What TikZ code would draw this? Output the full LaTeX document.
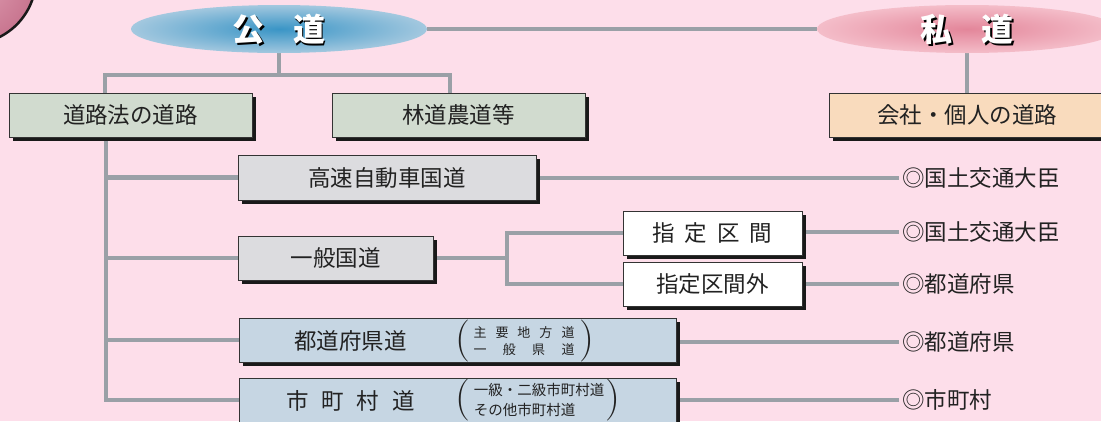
\documentclass[tikz,border=0pt]{standalone}
\usepackage{fontspec}
\newfontfamily\cjk{Noto Sans CJK JP}
\usetikzlibrary{shapes.geometric,shadows,calc}
\definecolor{bgpink}{HTML}{FDDEEA}
\definecolor{conncol}{HTML}{9AA0A7}
\definecolor{greenbox}{HTML}{D1DBCF}
\definecolor{peachbox}{HTML}{F9DBBD}
\definecolor{graybox}{HTML}{DCDCDF}
\definecolor{bluebox}{HTML}{C6D6E3}
\definecolor{blueC}{HTML}{3A95C6}
\definecolor{blueE}{HTML}{A3C8DF}
\definecolor{pinkC}{HTML}{E3869A}
\definecolor{pinkE}{HTML}{F4BDC9}
\definecolor{circC}{HTML}{E2A3B6}
\definecolor{circE}{HTML}{C8758F}
\definecolor{txt}{HTML}{222222}
\pgfdeclarelayer{back}
\pgfdeclarelayer{lines}
\pgfsetlayers{back,lines,main}
\begin{document}
\begin{tikzpicture}[x=1pt,y=-1pt,
  box/.style={draw=black!80, line width=0.9pt, inner sep=0pt, minimum height=44,
    drop shadow={shadow xshift=3.5pt,shadow yshift=-3.5pt,fill=black!90,opacity=1},
    font=\cjk\fontsize{22.5}{27}\selectfont, text=txt},
  conn/.style={draw=conncol, line width=4.5pt},
  lab/.style={anchor=west, inner ysep=0pt, inner xsep=3pt, font=\cjk\fontsize{22.5}{27}\selectfont, text=txt},
  ell/.style={ellipse, inner sep=0pt, minimum width=296, minimum height=48},
  elltext/.style={font=\cjk\bfseries\fontsize{32}{36}\selectfont, inner sep=0pt},
  paren/.style={inner sep=0pt, font=\fontsize{42}{42}\selectfont, text=txt},
  small/.style={inner sep=0pt, text=txt, align=left}]
\useasboundingbox (0,0) rectangle (1101,421);
\clip (0,0) rectangle (1101,421);
\begin{pgfonlayer}{back}
  \fill[bgpink] (0,0) rectangle (1101,421);
\end{pgfonlayer}

% corner circle
\draw[line width=2.5pt, draw=black!90, inner color=circC, outer color=circE] (-30,-22) circle[radius=66];

% ellipses
\node[ell, inner color=blueC, outer color=blueE] (kodo) at (279,29) {};
\node[elltext, text=black] at ($(kodo)+(1.5,2)$) {公\hspace{29pt}道};
\node[elltext, text=white] at (kodo) {公\hspace{29pt}道};
\node[ell, minimum width=300, inner color=pinkC, outer color=pinkE] (shido) at (967,29) {};
\node[elltext, text=black] at ($(shido)+(1.5,2)$) {私\hspace{29pt}道};
\node[elltext, text=white] at (shido) {私\hspace{29pt}道};

% boxes
\node[box, fill=greenbox, minimum width=243] (doro) at (130.5,115) {道路法の道路};
\node[box, fill=greenbox, minimum width=253] (rindo) at (458.5,115) {林道農道等};
\node[box, fill=peachbox, minimum width=290, text width=270, align=left] (kaisha) at (974,115) {\hspace{38pt}会社・個人の道路};
\node[box, fill=graybox, minimum width=298, minimum height=45] (kosoku) at (387,177.5) {高速自動車国道};
\node[box, fill=graybox, minimum width=195] (ippan) at (335.5,258) {一般国道};
\node[box, fill=white, minimum width=179] (shitei) at (712.5,233) {指\hspace{10pt}定\hspace{10pt}区\hspace{10pt}間};
\node[box, fill=white, minimum width=179] (shiteigai) at (712.5,284) {指定区間外};
\node[box, fill=bluebox, minimum width=437] (todo) at (457.5,340) {};
\node[box, fill=bluebox, minimum width=437] (shichoson) at (457.5,400) {};

% texts inside blue boxes
\node[inner sep=0pt, font=\cjk\fontsize{22.5}{27}\selectfont, text=txt] (todot) at (350.5,341) {都道府県道};
\node[paren] (todop1) at (463,341) {(};
\node[small, font=\cjk\fontsize{13}{18}\selectfont] (todos) at (524,341) {\makebox[101pt][s]{主\hfill 要\hfill 地\hfill 方\hfill 道}\\[-0.5pt]\makebox[101pt][s]{一\hfill 般\hfill 県\hfill 道}};
\node[paren] (todop2) at (587,341) {)};

\node[inner sep=0pt, font=\cjk\fontsize{22.5}{27}\selectfont, text=txt] (shit) at (350.5,401) {市\hspace{13pt}町\hspace{13pt}村\hspace{13pt}道};
\node[paren] (ship1) at (463,400) {(};
\node[small, font=\cjk\fontsize{14.5}{20}\selectfont] (shis) at (539,400) {一級・二級市町村道\\その他市町村道};
\node[paren] (ship2) at (613,400) {)};

% labels
\node[lab] (l1) at (899,178) {◎国土交通大臣};
\node[lab] (l2) at (899,232) {◎国土交通大臣};
\node[lab] (l3) at (899,284) {◎都道府県};
\node[lab] (l4) at (899,342) {◎都道府県};
\node[lab] (l5) at (899,400) {◎市町村};

% connectors
\coordinate (h1) at (105,75);
\coordinate (h2) at (450,75);
\coordinate (t) at (106,0);
\coordinate (b) at (507,0);
\begin{pgfonlayer}{lines}
  \draw[conn] (kodo.east) -- (shido.west);
  \draw[conn] (kodo.south) -- (kodo.south |- h1);
  \draw[conn] (h1 |- doro.north) -- (h1) -- (h2) -- (h2 |- rindo.north);
  \draw[conn] (shido.south) -- (shido.south |- kaisha.north);
  \draw[conn] (t |- doro.south) -- (t |- shichoson.west) -- (shichoson.west);
  \draw[conn] (t |- kosoku.west) -- (kosoku.west);
  \draw[conn] (t |- ippan.west) -- (ippan.west);
  \draw[conn] (t |- todo.west) -- (todo.west);
  \draw[conn] (kosoku.east |- l1.west) -- (l1.west);
  \draw[conn] (ippan.east) -- (b |- ippan.east);
  \draw[conn] (shitei.west) -- (b |- shitei.west) -- (b |- shiteigai.west) -- (shiteigai.west);
  \draw[conn] (shitei.east |- l2.west) -- (l2.west);
  \draw[conn] (shiteigai.east) -- (l3.west);
  \draw[conn] (todo.east |- l4.west) -- (l4.west);
  \draw[conn] (shichoson.east) -- (l5.west);
\end{pgfonlayer}
\end{tikzpicture}
\end{document}
